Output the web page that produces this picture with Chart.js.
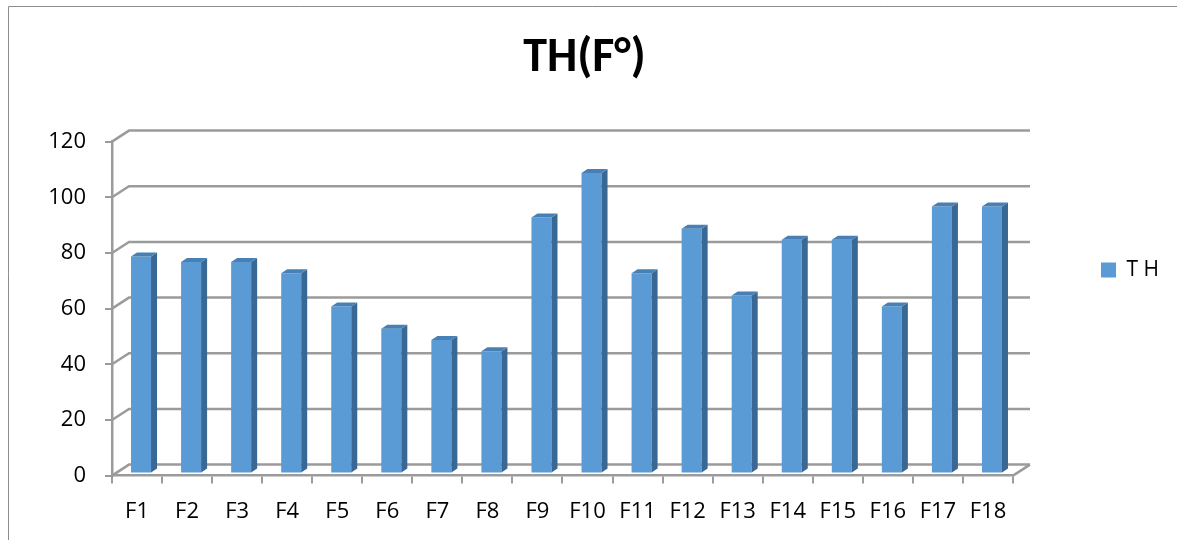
<!DOCTYPE html>
<html>
<head>
<meta charset="utf-8">
<script src="https://cdn.jsdelivr.net/npm/chart.js"></script>
<style>
    body { margin: 0; background: #fff; }
    #box { width: 1177px; height: 540px; }
</style>
</head>
<body>
<div id="box"><canvas id="graficoTH" width="1177" height="540"></canvas></div>
<script>
var categorias = ['F1', 'F2', 'F3', 'F4', 'F5', 'F6', 'F7', 'F8', 'F9', 'F10', 'F11', 'F12', 'F13', 'F14', 'F15', 'F16', 'F17', 'F18'];
var valoresTH = [78, 76, 76, 72, 60, 52, 48, 44, 92, 108, 72, 88, 64, 84, 84, 60, 96, 96];
var ticksY = [0, 20, 40, 60, 80, 100, 120];

var corFrente = 'rgb(91, 155, 213)';
var corLado = 'rgb(58, 104, 148)';
var corTopo = 'rgb(72, 128, 182)';
var corGrade = 'rgb(155, 155, 155)';

// deslocamento da parede do fundo (efeito 3D)
var fundoX = 17;
var fundoY = -11;
// profundidade das barras
var barraX = 6;
var barraY = -4;

const efeito3D = {
    id: 'efeito3D',
    beforeDraw(chart) {
        const ctx = chart.ctx;
        ctx.save();
        ctx.strokeStyle = 'rgb(140, 140, 140)';
        ctx.lineWidth = 1;
        ctx.beginPath();
        ctx.moveTo(8.5, 540);
        ctx.lineTo(8.5, 6.5);
        ctx.lineTo(1177, 6.5);
        ctx.stroke();
        ctx.restore();
    },
    beforeDatasetsDraw(chart) {
        const ctx = chart.ctx;
        const area = chart.chartArea;
        const y = chart.scales.y;
        ctx.save();
        ctx.strokeStyle = corGrade;
        ctx.lineWidth = 2.5;
        for (var i = 0; i < ticksY.length; i++) {
            var py = y.getPixelForValue(ticksY[i]);
            ctx.beginPath();
            ctx.moveTo(area.left, py);
            ctx.lineTo(area.left + fundoX, py + fundoY);
            ctx.lineTo(area.right + fundoX, py + fundoY);
            ctx.stroke();
        }
        ctx.beginPath();
        ctx.moveTo(area.right, area.bottom);
        ctx.lineTo(area.right + fundoX, area.bottom + fundoY);
        ctx.stroke();
        ctx.restore();

        // barras ficam um pouco atras do plano da frente
        ctx.save();
        ctx.translate(4, -2);
    },
    afterDatasetsDraw(chart) {
        const ctx = chart.ctx;
        const meta = chart.getDatasetMeta(0);
        for (var i = 0; i < meta.data.length; i++) {
            var b = meta.data[i];
            var esq = b.x - b.width / 2;
            var dir = b.x + b.width / 2;
            ctx.fillStyle = corLado;
            ctx.beginPath();
            ctx.moveTo(dir, b.y);
            ctx.lineTo(dir + barraX, b.y + barraY);
            ctx.lineTo(dir + barraX, b.base + barraY);
            ctx.lineTo(dir, b.base);
            ctx.closePath();
            ctx.fill();
            ctx.fillStyle = corTopo;
            ctx.beginPath();
            ctx.moveTo(esq, b.y);
            ctx.lineTo(esq + barraX, b.y + barraY);
            ctx.lineTo(dir + barraX, b.y + barraY);
            ctx.lineTo(dir, b.y);
            ctx.closePath();
            ctx.fill();
        }
        ctx.restore();
    }
};

const dados = {
    labels: categorias,
    datasets: [{
        label: 'T H',
        backgroundColor: corFrente,
        borderWidth: 0,
        barPercentage: 0.4,
        categoryPercentage: 1.0,
        data: valoresTH
    }]
};

const config = {
    type: 'bar',
    data: dados,
    options: {
        responsive: false,
        animation: false,
        layout: {
            padding: { left: 0, right: 8, top: 0, bottom: 0 }
        },
        plugins: {
            title: {
                display: true,
                text: 'TH(F°)',
                color: '#000',
                font: { family: "Carlito, 'Liberation Sans', sans-serif", size: 48, weight: 'bold' },
                padding: { top: 30, bottom: 54 }
            },
            legend: {
                position: 'right',
                labels: {
                    boxWidth: 15,
                    boxHeight: 15,
                    color: '#000',
                    font: { family: "'Open Sans', sans-serif", size: 21 },
                    padding: 24
                }
            },
            tooltip: { enabled: false }
        },
        scales: {
            x: {
                grid: {
                    drawOnChartArea: false,
                    drawTicks: true,
                    tickLength: 8,
                    color: corGrade,
                    lineWidth: 2
                },
                border: { color: corGrade, width: 2.5 },
                ticks: {
                    color: '#000',
                    padding: 15,
                    maxRotation: 0,
                    font: { family: "'Open Sans', sans-serif", size: 22 }
                }
            },
            y: {
                min: 0,
                max: 120,
                grid: {
                    drawOnChartArea: false,
                    drawTicks: true,
                    tickLength: 7,
                    color: corGrade,
                    lineWidth: 2
                },
                border: { color: corGrade, width: 2.5 },
                ticks: {
                    stepSize: 20,
                    color: '#000',
                    padding: 19,
                    font: { family: "'Open Sans', sans-serif", size: 22 }
                },
                afterFit: function (escala) {
                    escala.width = 112;
                }
            },
            // espaco vazio entre a area do grafico e a legenda
            espaco: {
                type: 'linear',
                position: 'right',
                grid: { display: false, drawTicks: false },
                border: { display: false },
                ticks: { display: false },
                afterFit: function (escala) {
                    escala.width = 64;
                }
            }
        }
    },
    plugins: [efeito3D]
};

const grafico = new Chart(
    document.getElementById('graficoTH'),
    config
);
</script>
</body>
</html>
